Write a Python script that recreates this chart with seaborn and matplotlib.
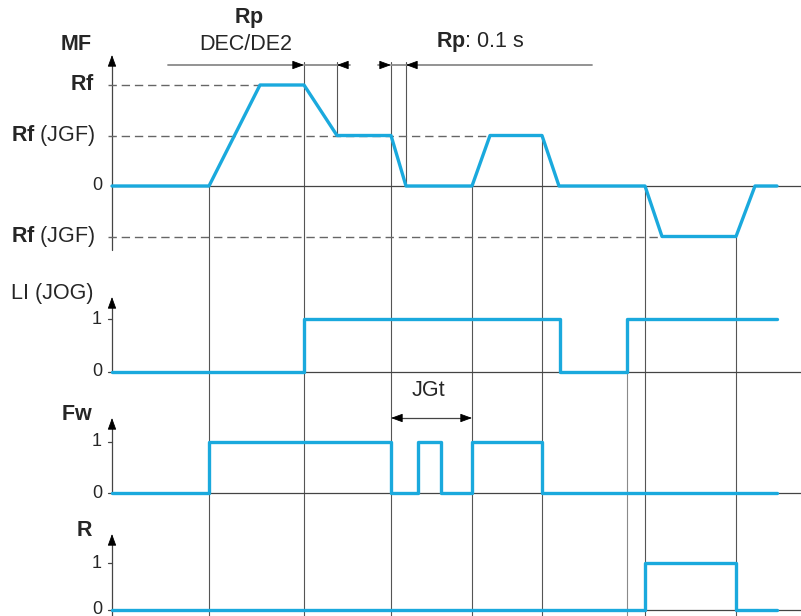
import matplotlib.pyplot as plt
import seaborn as sns

# signal data (time in arbitrary units, MF levels: Rf = 2, Rf(JGF) = 1)
mf_t = [0, 9.7, 14.8, 19.2, 22.5, 27.9, 29.4, 36.0, 37.8, 43.0, 44.7, 53.3, 55.0, 62.4, 64.3, 66.5]
mf_v = [0, 0, 2, 2, 1, 1, 0, 0, 1, 1, 0, 0, -1, -1, 0, 0]
li_t = [0, 19.2, 44.8, 51.5, 66.5]
li_v = [0, 1, 0, 1, 1]
fw_t = [0, 9.7, 27.9, 30.6, 32.9, 36.0, 43.0, 66.5]
fw_v = [0, 1, 0, 1, 0, 1, 0, 0]
r_t = [0, 53.3, 62.4, 66.5]
r_v = [0, 1, 0, 0]

mf_levels = [2, 1, -1]
mf_labels = [r'$\mathbf{Rf}$', r'$\mathbf{Rf}$ (JGF)', r'$\mathbf{Rf}$ (JGF)']
mf_dash_end = [14.8, 37.8, 55.0]

# guide lines: time, top (px), bottom (px)
guide_t = [9.7, 19.2, 22.5, 27.9, 29.4, 36.0, 43.0, 51.5, 53.3, 62.4]
guide_top = [186, 62, 62, 62, 62, 186, 136, 372, 186, 237]
guide_bot = [616, 616, 136, 616, 186, 616, 616, 616, 616, 616]

BLUE = '#1aa9dd'
GRID = '#555555'
FS = 15.5
FS_NUM = 13

sns.set_theme(style='white')
plt.rcParams['font.family'] = ['Liberation Sans', 'DejaVu Sans']
plt.rcParams['mathtext.fontset'] = 'custom'
plt.rcParams['mathtext.rm'] = 'Liberation Sans'
plt.rcParams['mathtext.bf'] = 'Liberation Sans:bold'

fig = plt.figure(figsize=(8.01, 6.16), dpi=100)
ax = fig.add_axes([0, 0, 1, 1])
ax.set_xlim(-11.2, 68.9)
ax.set_ylim(616, 0)
ax.axis('off')

# panel layout: base (px of level 0), px per level, axis top, axis bottom
panels = {
    'MF': (186, 50.5, 55, 250),
    'LI': (372, 53, 297, 372),
    'Fw': (493, 51, 418, 493),
    'R': (610, 47, 534, 616),
}


def ypos(panel, level):
    base, unit = panels[panel][:2]
    return base - level * unit


def head(x, y, dx=0.0, dy=0.0):
    ax.annotate('', xy=(x, y), xytext=(x - dx, y - dy),
                arrowprops=dict(arrowstyle='-|>,head_length=0.6,head_width=0.22',
                                color='black', lw=0.6, mutation_scale=12,
                                shrinkA=0, shrinkB=0))


# guide lines
for t, top, bot in zip(guide_t, guide_top, guide_bot):
    c = '#8a8a8a' if t == 51.5 else GRID
    ax.plot([t, t], [top, bot], color=c, lw=0.8, zorder=1)

# axes of each panel
for name, (base, unit, top, bot) in panels.items():
    ax.plot([0, 68.9], [base, base], color='#444444', lw=0.9, zorder=1)
    head(69.2, base, dx=1.0)
    ax.plot([0, 0], [bot, top + 8], color='#444444', lw=0.9, zorder=1)
    head(0, top, dy=-9)

# dashed reference levels
for lv, lab, xe in zip(mf_levels, mf_labels, mf_dash_end):
    y = ypos('MF', lv)
    ax.plot([-0.4, xe], [y, y], color='#666666', lw=1.0, dashes=(6, 3.5), zorder=1)
    ax.text(-1.7, y, lab, ha='right', va='center', fontsize=FS)
ax.text(-1.0, ypos('MF', 0), '0', ha='right', va='center', fontsize=FS_NUM)

# binary ticks
for name in ['LI', 'Fw', 'R']:
    for lv in [0, 1]:
        y = ypos(name, lv)
        ax.plot([-0.4, 0], [y, y], color='#444444', lw=0.9)
        ax.text(-1.0, y, str(lv), ha='right', va='center', fontsize=FS_NUM)

# signals
line_kw = dict(color=BLUE, lw=2.4, estimator=None, sort=False, legend=False, zorder=3)
sns.lineplot(x=mf_t, y=[ypos('MF', v) for v in mf_v], ax=ax, **line_kw)
for name, t, v in [('LI', li_t, li_v), ('Fw', fw_t, fw_v), ('R', r_t, r_v)]:
    sns.lineplot(x=t, y=[ypos(name, x) for x in v], ax=ax, drawstyle='steps-post', **line_kw)

# panel titles
ax.text(-2.0, 45, r'$\mathbf{MF}$', ha='right', va='center', fontsize=FS)
ax.text(-1.8, 293, 'LI (JOG)', ha='right', va='center', fontsize=FS)
ax.text(-1.9, 415, r'$\mathbf{Fw}$', ha='right', va='center', fontsize=FS)
ax.text(-1.9, 530, r'$\mathbf{R}$', ha='right', va='center', fontsize=FS)

# Rp DEC/DE2 dimension
ax.text(13.7, 18, r'$\mathbf{Rp}$', ha='center', va='center', fontsize=FS)
ax.text(13.4, 45, 'DEC/DE2', ha='center', va='center', fontsize=FS)
ax.plot([5.6, 18.4], [65, 65], color='#8a8a8a', lw=1.3, zorder=1)
head(19.2, 65, dx=1.0)
ax.plot([19.2, 23.8], [65, 65], color='#8a8a8a', lw=1.3, zorder=1)
head(22.5, 65, dx=-1.0)

# Rp 0.1 s dimension
ax.text(32.4, 42, r'$\mathbf{Rp}$: 0.1 s', ha='left', va='center', fontsize=FS)
ax.plot([26.6, 27.2], [65, 65], color='#8a8a8a', lw=1.3, zorder=1)
head(27.9, 65, dx=1.0)
ax.plot([27.9, 48.0], [65, 65], color='#8a8a8a', lw=1.3, zorder=1)
head(29.4, 65, dx=-1.0)

# JGt dimension
ax.text(31.6, 390, 'JGt', ha='center', va='center', fontsize=FS)
ax.plot([28.5, 35.4], [418, 418], color='#444444', lw=0.9, zorder=1)
head(27.9, 418, dx=-1.0)
head(36.0, 418, dx=1.0)

fig.savefig('out.png', dpi=100)
